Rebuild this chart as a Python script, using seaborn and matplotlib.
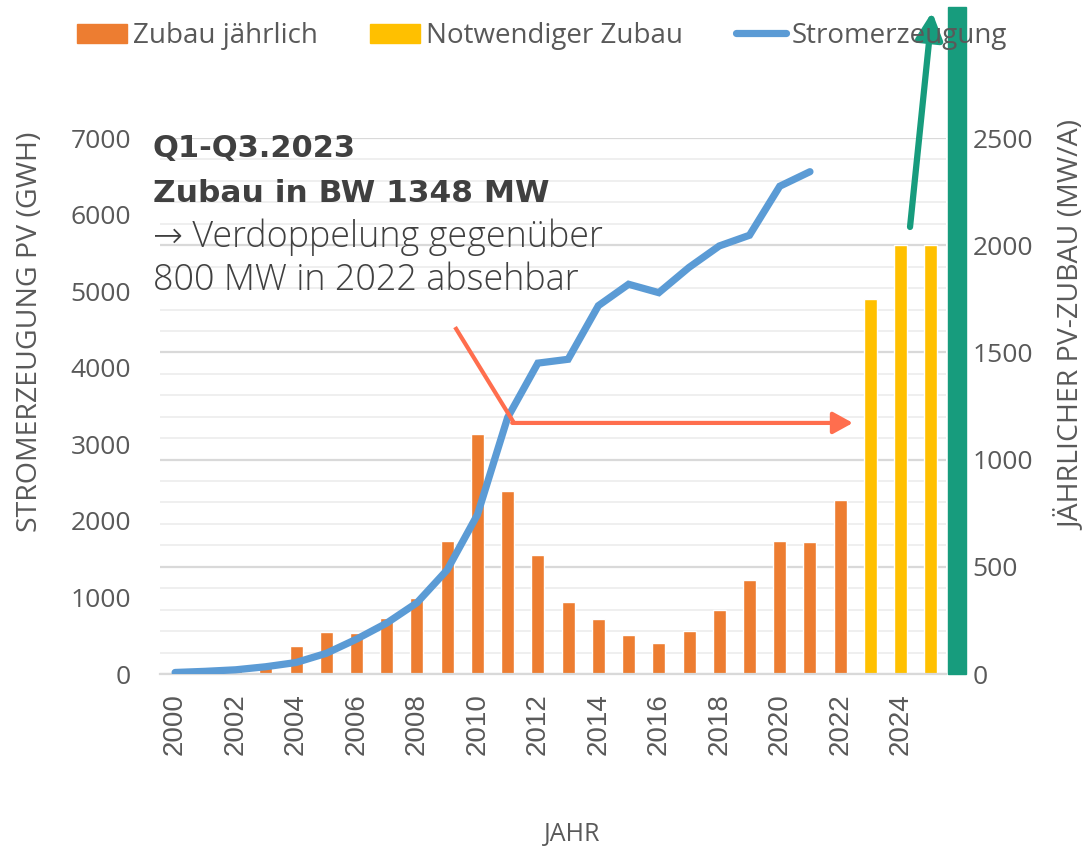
import numpy as np
import pandas as pd
import matplotlib
matplotlib.use("Agg")
import matplotlib.pyplot as plt
import matplotlib.ticker as mticker
from matplotlib.patches import Rectangle, Patch
from matplotlib.lines import Line2D
import seaborn as sns

# ---------------- data ----------------
years = list(range(2000, 2026))
zubau_jaehrlich = [5, 28, 35, 53, 132, 194, 191, 263, 356, 619, 1119, 853, 554,
                   337, 255, 182, 143, 202, 299, 438, 620, 616, 810]
notwendiger_zubau = [1750, 2000, 2000]
gen_years = list(range(2000, 2022))
stromerzeugung = [20, 35, 55, 95, 150, 270, 455, 665, 930, 1360, 2080, 3350,
                  4060, 4110, 4810, 5090, 4980, 5310, 5590, 5730, 6370, 6560]
left_ticks = [0, 1000, 2000, 3000, 4000, 5000, 6000, 7000]
right_ticks = [0, 500, 1000, 1500, 2000, 2500]

C_OR = "#ED7D31"
C_YE = "#FFC000"
C_BL = "#5B9BD5"
C_GR = "#179C7D"
C_RED = "#FF6E4E"
C_TXT = "#595959"

sns.set_style("white")
plt.rcParams["font.family"] = ["Open Sans", "DejaVu Sans"]

W, H = 1087, 850
fig = plt.figure(figsize=(W / 100, H / 100), dpi=100)
L, R, B, T = 160, 946, 674, 138
ax = fig.add_axes([L / W, 1 - B / H, (R - L) / W, (B - T) / H])

df = pd.DataFrame({
    "Jahr": [str(y) for y in years],
    "MW": zubau_jaehrlich + notwendiger_zubau,
    "Art": ["Zubau jährlich"] * len(zubau_jaehrlich) + ["Notwendiger Zubau"] * len(notwendiger_zubau),
})
sns.barplot(data=df, x="Jahr", y="MW", hue="Art", dodge=False, width=0.43,
            palette={"Zubau jährlich": C_OR, "Notwendiger Zubau": C_YE},
            legend=False, ax=ax, saturation=1)

# line axis (drawn on top of bars)
ax2 = ax.twinx()
sns.lineplot(x=[y - years[0] for y in gen_years], y=stromerzeugung, ax=ax2,
             color=C_BL, lw=5.2, solid_capstyle="round", solid_joinstyle="miter")

ax.set_xlim(-0.5, len(years) - 0.5)
ax.set_ylim(0, 2500)
ax.yaxis.tick_right()
ax.set_yticks(right_ticks)
ax.set_yticklabels([str(v) for v in right_ticks])
ax.yaxis.set_minor_locator(mticker.MultipleLocator(100))
ax.grid(axis="y", which="major", color="#D9D9D9", lw=1.6)
ax.grid(axis="y", which="minor", color="#EFEFEF", lw=1.4)
ax.grid(axis="x", visible=False)
ax.set_axisbelow(True)
ax.tick_params(axis="y", which="both", length=0, pad=19, labelsize=19, labelcolor=C_TXT)
ax.set_xlabel("")
ax.set_ylabel("")
for s in ["top", "left", "right"]:
    ax.spines[s].set_visible(False)
ax.spines["bottom"].set_color("#D9D9D9")
ax.spines["bottom"].set_linewidth(1.6)

xt = list(range(0, len(years), 2))
ax.set_xticks(xt)
ax.set_xticklabels([str(years[i]) for i in xt], rotation=90, va="top", ha="center",
                   family=["Liberation Sans", "DejaVu Sans"])
ax.set_xticks(np.arange(-0.5, len(years), 1.0), minor=True)
ax.tick_params(axis="x", which="major", length=0, pad=14, labelsize=20, labelcolor=C_TXT)
ax.tick_params(axis="x", which="minor", length=9, width=1.6, color="#D9D9D9", direction="out")

ax2.set_ylim(0, 7000)
ax2.yaxis.tick_left()
ax2.set_yticks(left_ticks)
ax2.set_yticklabels([str(v) for v in left_ticks])
ax2.tick_params(axis="y", length=0, pad=21, labelsize=19, labelcolor=C_TXT)
ax2.grid(False)
ax2.set_ylabel("")
for s in ax2.spines.values():
    s.set_visible(False)

# green vertical bar beyond the axis
ax2.add_patch(Rectangle((25.55, 0), 0.6, 3111, transform=ax.transData,
                        color=C_GR, clip_on=False, zorder=5))
# green arrow
ax2.annotate("", xy=(25.04, 3088), xytext=(24.31, 2085),
             xycoords=ax.transData, textcoords=ax.transData,
             arrowprops=dict(arrowstyle="-|>,head_length=1.0,head_width=0.5",
                             mutation_scale=16, lw=4.5, color=C_GR,
                             shrinkA=0, shrinkB=0), annotation_clip=False, zorder=6)
# red arrow
ax2.plot([9.26, 11.21], [1618, 1171], transform=ax.transData, color=C_RED, lw=3,
         solid_capstyle="butt", zorder=6)
ax2.annotate("", xy=(22.42, 1171), xytext=(11.15, 1171),
             xycoords=ax.transData, textcoords=ax.transData,
             arrowprops=dict(arrowstyle="-|>,head_length=1.0,head_width=0.55",
                             mutation_scale=12, lw=3, color=C_RED,
                             shrinkA=0, shrinkB=0), zorder=6)

# annotation text
def ftext(x, y, s, **kw):
    fig.text(x / W, 1 - y / H, s, **kw)

ftext(153, 157, "Q1-Q3.2023", fontsize=22, fontweight="bold", color="#404040",
      va="baseline", family=["DejaVu Sans"])
ftext(153, 202, "Zubau in BW 1348 MW", fontsize=22.5, fontweight="bold", color="#404040",
      va="baseline", family=["DejaVu Sans"])
ftext(153, 247, "\u2192 Verdoppelung gegenüber", fontsize=25.8, fontweight="light",
      color="#404040", va="baseline")
ftext(153, 290, "800 MW in 2022 absehbar", fontsize=25.8, fontweight="light",
      color="#404040", va="baseline")

# axis titles
ftext(30, 332, "STROMERZEUGUNG PV (GWH)", rotation=90, fontsize=20.5, color=C_TXT,
      ha="center", va="center")
ftext(1072, 325, "JÄHRLICHER PV-ZUBAU (MW/A)", rotation=90, fontsize=20.5, color=C_TXT,
      ha="center", va="center")
ftext(572, 835, "JAHR", fontsize=18, color=C_TXT, ha="center", va="center")

# legend
handles = [Patch(color=C_OR, label="Zubau jährlich"),
           Patch(color=C_YE, label="Notwendiger Zubau"),
           Line2D([], [], color=C_BL, lw=5.2, solid_capstyle="round", label="Stromerzeugung")]
leg = fig.legend(handles=handles, loc="center", bbox_to_anchor=(542 / W, 1 - 36 / H),
                 ncol=3, frameon=False, fontsize=20, handlelength=1.8, handleheight=0.7,
                 handletextpad=0.2, columnspacing=1.9, labelcolor=C_TXT)
leg.set_zorder(1)

fig.savefig("out.png", dpi=100)
